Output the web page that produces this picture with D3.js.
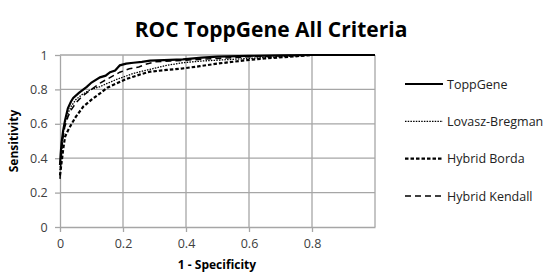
<!DOCTYPE html>
<html><head><meta charset="utf-8">
<script src="https://cdn.jsdelivr.net/npm/d3@7"></script>
<style>body{margin:0;background:#fff}svg{display:block}</style>
</head><body>
<svg id="c" width="543" height="275"></svg>
<script>
const title = "ROC ToppGene All Criteria";
const xLabel = "1 - Specificity";
const yLabel = "Sensitivity";
const xTicks = [0, 0.2, 0.4, 0.6, 0.8];
const yTicks = [0, 0.2, 0.4, 0.6, 0.8, 1];
const seriesNames = ["ToppGene", "Lovasz-Bregman", "Hybrid Borda", "Hybrid Kendall"];
const toppGeneX = [0, 0.002, 0.005, 0.01, 0.016, 0.025, 0.035, 0.042, 0.06, 0.085, 0.1, 0.127, 0.145, 0.159, 0.175, 0.19, 0.21, 0.233, 0.26, 0.286, 0.33, 0.39, 0.45, 0.5, 0.6, 0.7, 0.8, 1];
const toppGeneY = [0.36, 0.42, 0.49, 0.56, 0.62, 0.69, 0.73, 0.75, 0.78, 0.815, 0.84, 0.87, 0.88, 0.9, 0.91, 0.94, 0.95, 0.955, 0.96, 0.967, 0.97, 0.975, 0.985, 0.99, 0.995, 0.998, 1, 1];
const lovaszX = [0, 0.003, 0.008, 0.015, 0.025, 0.035, 0.05, 0.07, 0.095, 0.127, 0.15, 0.18, 0.233, 0.286, 0.339, 0.39, 0.45, 0.55, 0.65, 0.75, 0.8, 1];
const lovaszY = [0.33, 0.42, 0.52, 0.6, 0.66, 0.7, 0.74, 0.77, 0.797, 0.816, 0.835, 0.858, 0.893, 0.917, 0.94, 0.955, 0.965, 0.975, 0.985, 0.995, 1, 1];
const bordaX = [0, 0.004, 0.01, 0.016, 0.025, 0.037, 0.05, 0.074, 0.1, 0.127, 0.15, 0.18, 0.21, 0.233, 0.26, 0.286, 0.339, 0.39, 0.444, 0.5, 0.593, 0.65, 0.73, 0.8, 1];
const bordaY = [0.3, 0.36, 0.45, 0.525, 0.56, 0.6, 0.64, 0.7, 0.74, 0.777, 0.81, 0.835, 0.86, 0.874, 0.89, 0.903, 0.913, 0.922, 0.935, 0.95, 0.97, 0.98, 0.99, 1, 1];
const kendallX = [0, 0.003, 0.008, 0.015, 0.025, 0.035, 0.05, 0.07, 0.1, 0.13, 0.16, 0.19, 0.22, 0.25, 0.27, 0.3, 0.35, 0.4, 0.5, 0.6, 0.7, 0.8, 1];
const kendallY = [0.28, 0.38, 0.5, 0.58, 0.64, 0.68, 0.72, 0.76, 0.8, 0.84, 0.87, 0.9, 0.92, 0.93, 0.945, 0.96, 0.965, 0.97, 0.98, 0.99, 0.995, 1, 1];

const styles = [
  {w: 2.2, dash: null},
  {w: 1.3, dash: "1.5,1.2"},
  {w: 2.2, dash: "3.5,2"},
  {w: 1.5, dash: "6,4"}
];
const data = [
  d3.zip(toppGeneX, toppGeneY),
  d3.zip(lovaszX, lovaszY),
  d3.zip(bordaX, bordaY),
  d3.zip(kendallX, kendallY)
];

const svg = d3.select("#c");
const font = "'Open Sans', 'Liberation Sans', sans-serif";
const x = d3.scaleLinear().domain([0, 1]).range([60, 375]);
const y = d3.scaleLinear().domain([0, 1]).range([227, 55]);
const grid = "#a6a6a6";

// grid
svg.append("g").selectAll("line").data(xTicks.slice(1).concat([1])).join("line")
  .attr("x1", d => x(d)).attr("x2", d => x(d)).attr("y1", y(0)).attr("y2", y(1))
  .attr("stroke", grid).attr("stroke-width", 1.3);
svg.append("g").selectAll("line").data(yTicks.slice(1)).join("line")
  .attr("x1", x(0)).attr("x2", x(1)).attr("y1", d => y(d)).attr("y2", d => y(d))
  .attr("stroke", grid).attr("stroke-width", 1.3);

// axes
const xa = svg.append("g").attr("transform", `translate(0,${y(0)})`)
  .call(d3.axisBottom(x).tickValues(xTicks).tickFormat(d3.format("")).tickSize(5).tickSizeOuter(0));
const ya = svg.append("g").attr("transform", `translate(${x(0)},0)`)
  .call(d3.axisLeft(y).tickValues(yTicks).tickFormat(d3.format("")).tickSize(5).tickSizeOuter(0));
[xa, ya].forEach(a => {
  a.select(".domain").attr("stroke", grid).attr("stroke-width", 1.3);
  a.selectAll(".tick line").attr("stroke", grid).attr("stroke-width", 1.3);
  a.selectAll("text").attr("font-family", font).attr("font-size", 12.5).attr("fill", "#404040");
});
xa.selectAll("text").attr("dy", "1.05em");
ya.selectAll("text").attr("dx", "-0.35em");

// lines
const line = d3.line().x(d => x(d[0])).y(d => y(d[1]));
data.forEach((d, i) => {
  svg.append("path").datum(d).attr("d", line).attr("fill", "none")
    .attr("stroke", "#000").attr("stroke-width", styles[i].w)
    .attr("stroke-dasharray", styles[i].dash);
});

// title & labels
svg.append("text").attr("x", 271).attr("y", 37).attr("text-anchor", "middle")
  .attr("font-family", font).attr("font-weight", "bold").attr("font-size", 21).text(title);
svg.append("text").attr("x", 217).attr("y", 269).attr("text-anchor", "middle")
  .attr("font-family", font).attr("font-weight", "bold").attr("font-size", 12).text(xLabel);
svg.append("text").attr("transform", "translate(18,141) rotate(-90)").attr("text-anchor", "middle")
  .attr("font-family", font).attr("font-weight", "bold").attr("font-size", 12).text(yLabel);

// legend
const ly = d3.scalePoint().domain(seriesNames).range([84, 196]);
const lg = svg.append("g").selectAll("g").data(seriesNames).join("g")
  .attr("transform", d => `translate(0,${ly(d)})`);
lg.append("line").attr("x1", 405).attr("x2", 443).attr("stroke", "#000")
  .attr("stroke-width", (d, i) => styles[i].w).attr("stroke-dasharray", (d, i) => styles[i].dash);
lg.append("text").attr("x", 447).attr("y", 4.5).attr("font-family", font).attr("font-size", 12.5)
  .attr("fill", "#222").text(d => d);
</script>
</body></html>
